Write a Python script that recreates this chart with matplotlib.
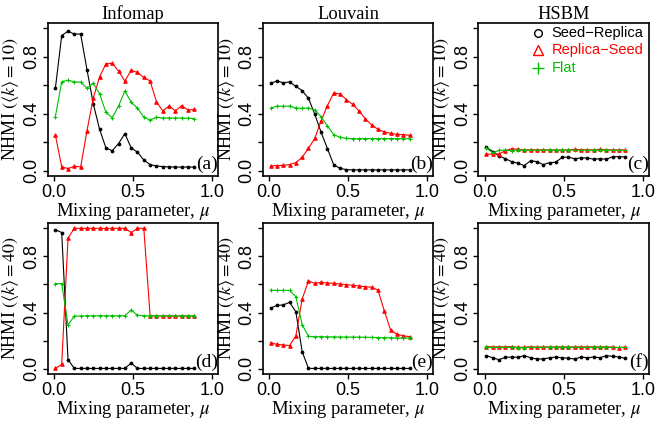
import matplotlib
matplotlib.use("Agg")
import matplotlib.pyplot as plt

plt.rcParams['mathtext.fontset'] = 'stix'

mu = [0.01, 0.05, 0.09, 0.13, 0.17, 0.21, 0.25, 0.29, 0.33, 0.37, 0.41, 0.45,
      0.49, 0.53, 0.57, 0.61, 0.65, 0.69, 0.73, 0.77, 0.81, 0.85, 0.89]

methods = ["Infomap", "Louvain", "HSBM"]
degrees = ["10", "40"]
panel_tags = ["(a)", "(b)", "(c)", "(d)", "(e)", "(f)"]
series_names = ["Seed\u2212Replica", "Replica\u2212Seed", "Flat"]

# Panel (a) Infomap, <k>=10
seed_replica_a = [0.58, 0.95, 0.98, 0.96, 0.96, 0.71, 0.47, 0.29, 0.16, 0.14, 0.19, 0.26,
                  0.16, 0.13, 0.075, 0.042, 0.033, 0.028, 0.026, 0.025, 0.025, 0.025, 0.025]
replica_seed_a = [0.25, 0.026, 0.014, 0.03, 0.026, 0.28, 0.51, 0.66, 0.75, 0.755, 0.70, 0.63,
                  0.705, 0.69, 0.655, 0.63, 0.485, 0.42, 0.455, 0.42, 0.457, 0.426, 0.43]
flat_a = [0.38, 0.625, 0.635, 0.623, 0.623, 0.58, 0.614, 0.54, 0.41, 0.372, 0.454, 0.56,
          0.48, 0.44, 0.375, 0.356, 0.375, 0.37, 0.37, 0.37, 0.37, 0.368, 0.365]

# Panel (b) Louvain, <k>=10
seed_replica_b = [0.614, 0.63, 0.618, 0.623, 0.593, 0.562, 0.508, 0.396, 0.269, 0.155, 0.04, 0.016,
                  0.007, 0.005, 0.005, 0.005, 0.005, 0.005, 0.005, 0.005, 0.005, 0.005, 0.005]
replica_seed_b = [0.033, 0.035, 0.037, 0.042, 0.056, 0.094, 0.157, 0.227, 0.351, 0.457, 0.546, 0.539,
                  0.499, 0.466, 0.419, 0.365, 0.321, 0.29, 0.272, 0.262, 0.255, 0.253, 0.248]
flat_b = [0.438, 0.454, 0.452, 0.454, 0.44, 0.438, 0.44, 0.426, 0.379, 0.314, 0.253, 0.234,
          0.226, 0.225, 0.225, 0.225, 0.225, 0.225, 0.225, 0.225, 0.225, 0.224, 0.224]

# Panel (c) HSBM, <k>=10
seed_replica_c = [0.164, 0.134, 0.103, 0.084, 0.063, 0.052, 0.035, 0.07, 0.063, 0.042, 0.056, 0.059,
                  0.094, 0.094, 0.084, 0.089, 0.089, 0.08, 0.084, 0.08, 0.098, 0.098, 0.096]
replica_seed_c = [0.115, 0.117, 0.117, 0.14, 0.155, 0.15, 0.145, 0.147, 0.145, 0.147, 0.145, 0.145,
                  0.143, 0.145, 0.15, 0.147, 0.147, 0.145, 0.15, 0.147, 0.145, 0.145, 0.145]
flat_c = [0.157, 0.126, 0.142, 0.145, 0.14, 0.145, 0.143, 0.145, 0.143, 0.145, 0.145, 0.143,
          0.145, 0.143, 0.145, 0.143, 0.145, 0.143, 0.145, 0.143, 0.145, 0.143, 0.143]

# Panel (d) Infomap, <k>=40
seed_replica_d = [0.99, 0.97, 0.064, 0.002, 0.002, 0.002, 0.002, 0.002, 0.002, 0.002, 0.002, 0.002,
                  0.04, 0.002, 0.002, 0.002, 0.002, 0.002, 0.002, 0.002, 0.002, 0.002, 0.002]
replica_seed_d = [0.003, 0.03, 0.93, 1.0, 1.0, 1.0, 1.0, 1.0, 1.0, 1.0, 1.0, 1.0,
                  0.97, 1.0, 1.0, 0.378, 0.375, 0.375, 0.375, 0.375, 0.375, 0.375, 0.375]
flat_d = [0.606, 0.606, 0.311, 0.375, 0.375, 0.377, 0.377, 0.377, 0.377, 0.377, 0.377, 0.377,
          0.418, 0.38, 0.377, 0.377, 0.377, 0.377, 0.377, 0.377, 0.377, 0.377, 0.377]

# Panel (e) Louvain, <k>=40
seed_replica_e = [0.432, 0.451, 0.454, 0.473, 0.406, 0.121, 0.002, 0.002, 0.002, 0.002, 0.002, 0.002,
                  0.002, 0.002, 0.002, 0.002, 0.002, 0.002, 0.002, 0.002, 0.002, 0.002, 0.002]
replica_seed_e = [0.185, 0.173, 0.169, 0.164, 0.235, 0.496, 0.625, 0.608, 0.615, 0.61, 0.608, 0.603,
                  0.599, 0.594, 0.589, 0.584, 0.58, 0.56, 0.413, 0.276, 0.245, 0.235, 0.228]
flat_e = [0.558, 0.558, 0.558, 0.558, 0.513, 0.314, 0.23, 0.228, 0.228, 0.227, 0.227, 0.226,
          0.226, 0.225, 0.225, 0.224, 0.223, 0.222, 0.221, 0.22, 0.219, 0.218, 0.218]

# Panel (f) HSBM, <k>=40
seed_replica_f = [0.093, 0.078, 0.064, 0.081, 0.083, 0.081, 0.093, 0.078, 0.069, 0.069, 0.078, 0.083,
                  0.078, 0.074, 0.069, 0.083, 0.078, 0.083, 0.078, 0.093, 0.088, 0.083, 0.074]
replica_seed_f = [0.158, 0.155, 0.156, 0.155, 0.158, 0.152, 0.153, 0.156, 0.153, 0.155, 0.154, 0.155,
                  0.155, 0.155, 0.155, 0.156, 0.155, 0.156, 0.155, 0.156, 0.154, 0.15, 0.155]
flat_f = [0.152, 0.152, 0.152, 0.152, 0.152, 0.15, 0.15, 0.152, 0.152, 0.152, 0.152, 0.152,
          0.152, 0.152, 0.152, 0.152, 0.152, 0.152, 0.152, 0.152, 0.152, 0.151, 0.151]

panels = [
    (seed_replica_a, replica_seed_a, flat_a),
    (seed_replica_b, replica_seed_b, flat_b),
    (seed_replica_c, replica_seed_c, flat_c),
    (seed_replica_d, replica_seed_d, flat_d),
    (seed_replica_e, replica_seed_e, flat_e),
    (seed_replica_f, replica_seed_f, flat_f),
]

RED = "#FF0000"
GREEN = "#00C000"
colors = ["black", RED, GREEN]
markers = ["o", "^", "+"]
msizes = [1.9, 2.5, 3.4]

SERIF = ["Liberation Serif", "DejaVu Serif"]
SANS = ["Liberation Sans", "DejaVu Sans"]

fig = plt.figure(figsize=(6.56, 4.22), dpi=100)
W, H = 656.0, 422.0
lefts = [47.5, 262.7, 478.5]
tops = [22.7, 222.7]
bottoms = [176.3, 374.3]
width = 170.5

for r in range(2):
    for c in range(3):
        idx = r * 3 + c
        ax = fig.add_axes([lefts[c] / W, 1 - bottoms[r] / H, width / W, (bottoms[r] - tops[r]) / H])
        for s in range(3):
            ax.plot(mu, panels[idx][s], color=colors[s], lw=0.8, marker=markers[s],
                    ms=msizes[s], mew=0.8, mfc=colors[s], mec=colors[s])
        ax.set_xlim(-0.04, 1.04)
        ax.set_ylim(-0.04, 1.04)
        ax.set_xticks([0.0, 0.5, 1.0])
        ax.set_xticklabels(["0.0", "0.5", "1.0"], fontfamily=SANS, fontsize=13)
        ax.set_yticks([0.0, 0.2, 0.4, 0.6, 0.8, 1.0])
        ax.set_yticklabels(["0.0", "", "0.4", "", "0.8", ""], fontfamily=SANS, fontsize=13,
                           rotation=90, va="center")
        ax.tick_params(direction="out", length=3.5, width=1.0, pad=2)
        for sp in ax.spines.values():
            sp.set_linewidth(1.2)
        ax.set_xlabel("Mixing parameter, $\\mu$", fontfamily=SERIF, fontsize=13.4, labelpad=0)
        ax.set_ylabel("NHMI $(\\langle k\\rangle = %s)$" % degrees[r], fontfamily=SERIF,
                      fontsize=13, labelpad=1)
        ax.text(0.998, 0.02, panel_tags[idx], transform=ax.transAxes, ha="right", va="bottom",
                fontfamily=SERIF, fontsize=14)
        if r == 0:
            ax.set_title(methods[c], fontfamily=SERIF, fontsize=13.3, pad=3)
        if idx == 2:
            leg_markers = ["o", "^", "+"]
            leg_ms = [5.5, 6.5, 8.0]
            for s in range(3):
                yy = 0.935 - s * 0.114
                ax.plot([0.35], [yy], transform=ax.transAxes, marker=leg_markers[s], ms=leg_ms[s],
                        mfc="none", mec=colors[s], mew=1.0, ls="none", clip_on=False)
                ax.text(0.43, yy, series_names[s], transform=ax.transAxes, ha="left",
                        va="center", color=colors[s], fontfamily=SANS, fontsize=10.5)

fig.savefig("out.png", dpi=100)
